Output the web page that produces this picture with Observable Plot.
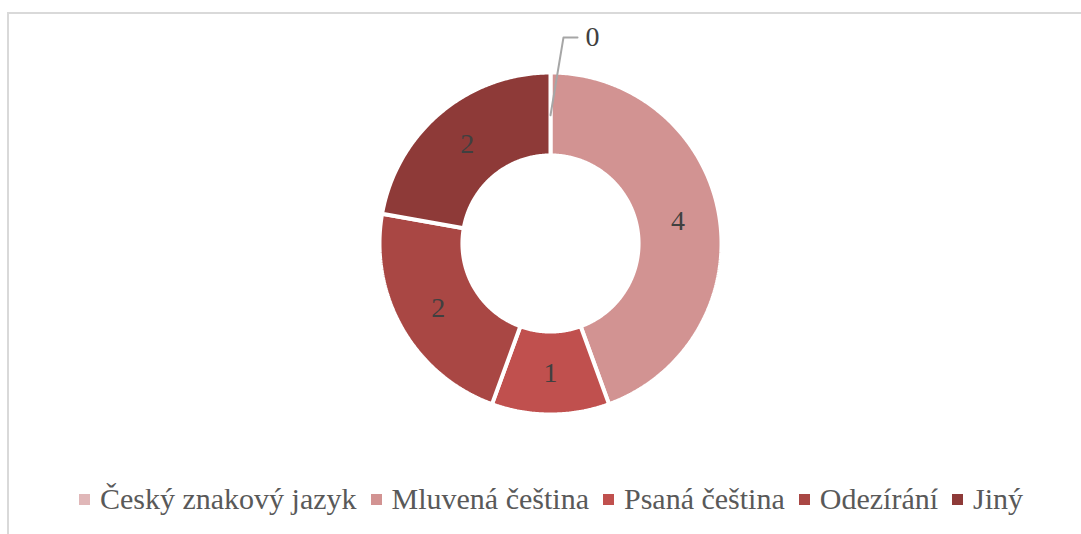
<!DOCTYPE html>
<html>
<head>
<meta charset="utf-8">
<script src="https://cdn.jsdelivr.net/npm/d3@7"></script>
<script src="https://cdn.jsdelivr.net/npm/@observablehq/plot@0.6"></script>
<style>
  html, body { margin: 0; padding: 0; background: #fff; }
  body { width: 1081px; height: 534px; position: relative; overflow: hidden; font-family: 'Liberation Serif', serif; }
  #frame { position: absolute; left: 7px; top: 12px; width: 1200px; height: 700px; border-top: 2px solid #d9d9d9; border-left: 2px solid #d9d9d9; pointer-events: none; }
  #chart { position: absolute; left: 0; top: 0; }
  #legend { position: absolute; left: 0; top: 482px; width: 1081px; display: flex; justify-content: center; align-items: center; color: #595959; font-size: 30px; line-height: 34px; padding-left: 21px; box-sizing: border-box; }
  .item { display: flex; align-items: center; margin: 0 7px; white-space: nowrap; }
  .sw { width: 11px; height: 11px; margin-right: 10px; }
</style>
</head>
<body>
<div id="chart"></div>
<div id="legend"></div>
<div id="frame"></div>
<script>
// Data
const categories = ["Český znakový jazyk", "Mluvená čeština", "Psaná čeština", "Odezírání", "Jiný"];
const values = [0, 4, 1, 2, 2];
const colors = ["#e0b7b8", "#d29392", "#c0504e", "#a94744", "#8e3a38"];

const innerRatio = 0.515;
const table = categories.map((c, i) => ({category: c, value: values[i], color: colors[i]}));

const arcs = d3.pie().sort(null).value(d => d.value)(table);

// polygon outline of each slice (angle from top, clockwise)
const polyPts = [];
arcs.forEach((a) => {
  if (a.endAngle - a.startAngle <= 0) return;
  const n = Math.max(8, Math.ceil((a.endAngle - a.startAngle) / 0.01));
  const pts = [];
  for (let k = 0; k <= n; k++) {
    const t = a.startAngle + (a.endAngle - a.startAngle) * k / n;
    pts.push({x: Math.sin(t), y: Math.cos(t)});
  }
  for (let k = n; k >= 0; k--) {
    const t = a.startAngle + (a.endAngle - a.startAngle) * k / n;
    pts.push({x: innerRatio * Math.sin(t), y: innerRatio * Math.cos(t)});
  }
  pts.push(pts[0]);
  pts.forEach(p => polyPts.push({...p, category: a.data.category, color: a.data.color}));
});

const labR = (1 + innerRatio) / 2;
const labels = arcs.filter(a => a.value > 0).map(a => {
  const m = (a.startAngle + a.endAngle) / 2;
  return {x: labR * Math.sin(m), y: labR * Math.cos(m), text: String(a.value)};
});

// callout for zero-value slices
const callLines = [];
const callTexts = [];
arcs.filter(a => a.value === 0).forEach((a, i) => {
  const m = (a.startAngle + a.endAngle) / 2;
  const x0 = 0.75 * Math.sin(m), y0 = 0.75 * Math.cos(m);
  callLines.push({x: x0, y: y0, g: i});
  callLines.push({x: x0 + 0.076, y: 1.205, g: i});
  callLines.push({x: x0 + 0.158, y: 1.205, g: i});
  callTexts.push({x: x0 + 0.245, y: 1.205, text: String(a.value)});
});

const R = 171, cx = 550, cy = 243;
const chart = Plot.plot({
  width: 1081,
  height: 470,
  margin: 0,
  x: {domain: [-1, 1], range: [cx - R, cx + R], axis: null},
  y: {domain: [-1, 1], range: [cy + R, cy - R], axis: null},
  style: {fontFamily: "'Liberation Serif', serif", background: "transparent"},
  marks: [
    Plot.line(polyPts, {x: "x", y: "y", z: "category", fill: "color", stroke: "white", strokeWidth: 4, strokeLinejoin: "miter", curve: "linear"}),
    Plot.text(labels, {x: "x", y: "y", text: "text", fill: "#404040", fontSize: 28}),
    Plot.line(callLines, {x: "x", y: "y", z: "g", stroke: "#a6a6a6", strokeWidth: 2}),
    Plot.text(callTexts, {x: "x", y: "y", text: "text", fill: "#404040", fontSize: 28})
  ]
});
document.getElementById("chart").appendChild(chart);

const legend = document.getElementById("legend");
table.forEach(d => {
  const it = document.createElement("div");
  it.className = "item";
  const sw = document.createElement("span");
  sw.className = "sw";
  sw.style.background = d.color;
  const tx = document.createElement("span");
  tx.style.fontFamily = "'Liberation Serif', serif";
  tx.textContent = d.category;
  it.appendChild(sw); it.appendChild(tx);
  legend.appendChild(it);
});
</script>
</body>
</html>
